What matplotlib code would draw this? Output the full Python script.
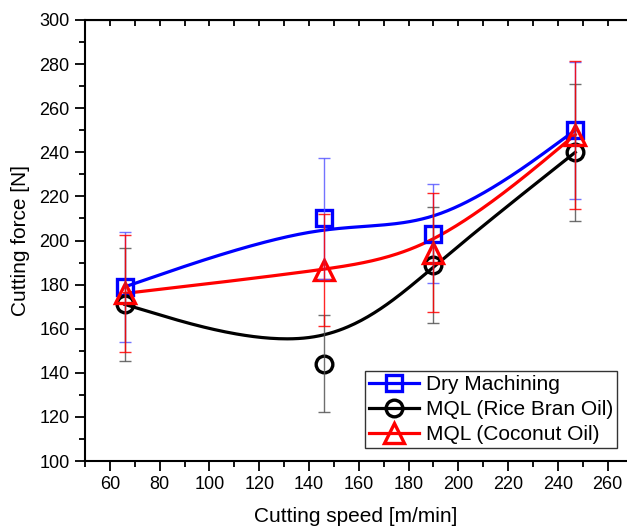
import numpy as np
import matplotlib
matplotlib.use("Agg")
import matplotlib.pyplot as plt
from matplotlib.ticker import MultipleLocator

plt.rcParams['font.family'] = ['Liberation Sans', 'DejaVu Sans']

speed = [66, 146, 190, 247]

dry = [179, 210, 203, 250]
dry_err = [25, 27.5, 22.5, 31]

rice = [171, 144, 189, 240]
rice_err = [25.5, 22, 26.3, 31]

coco = [176, 186.5, 194.5, 248]
coco_err = [26.5, 25.5, 27, 33.5]

labels = ['Dry Machining', 'MQL (Rice Bran Oil)', 'MQL (Coconut Oil)']


def bspline(xs, ys, n=60):
    # uniform cubic B-spline, end points repeated so the curve starts/ends on them
    pts = np.column_stack([xs, ys]).astype(float)
    q = np.vstack([pts[:1], pts[:1], pts, pts[-1:], pts[-1:]])
    u = np.linspace(0, 1, n)[:, None]
    b0 = (1 - u) ** 3 / 6
    b1 = (3 * u ** 3 - 6 * u ** 2 + 4) / 6
    b2 = (-3 * u ** 3 + 3 * u ** 2 + 3 * u + 1) / 6
    b3 = u ** 3 / 6
    out = [b0 * q[i] + b1 * q[i + 1] + b2 * q[i + 2] + b3 * q[i + 3]
           for i in range(len(q) - 3)]
    seg = np.vstack(out)
    return seg[:, 0], seg[:, 1]


fig = plt.figure(figsize=(6.27, 5.26), dpi=100)
ax = fig.add_axes([85 / 627, 1 - 461 / 526, 1 - 85 / 627, (461 - 20) / 526])

series = [
    (dry, dry_err, 'blue', '#5a5aff', 's', 11),
    (rice, rice_err, 'black', '#555555', 'o', 12),
    (coco, coco_err, 'red', 'red', '^', 14),
]

for (vals, err, col, ecol, mk, ms), lab in zip(series, labels):
    sx, sy = bspline(speed, vals)
    ax.plot(sx, sy, color=col, lw=2.3, zorder=3)
    ax.plot(speed, vals, ls='none', marker=mk, ms=ms, mfc='none', mec=col,
            mew=2.4, zorder=4)
    ax.errorbar(speed, vals, yerr=err, fmt='none', ecolor=ecol, elinewidth=1,
                capsize=4, capthick=1, alpha=0.85, zorder=5)
    ax.plot([], [], color=col, lw=2.3, marker=mk, ms=ms, mfc='none', mec=col,
            mew=2.4, label=lab)

ax.set_xlim(50, 267.8)
ax.set_ylim(100, 300)
ax.xaxis.set_major_locator(MultipleLocator(20))
ax.xaxis.set_minor_locator(MultipleLocator(10))
ax.yaxis.set_major_locator(MultipleLocator(20))
ax.yaxis.set_minor_locator(MultipleLocator(10))
ax.tick_params(which='major', direction='out', length=7, width=1.3,
               labelsize=13, pad=4)
ax.tick_params(which='minor', direction='out', length=4, width=1.3)
for s in ['left', 'bottom', 'top']:
    ax.spines[s].set_linewidth(1.5)
ax.spines['right'].set_visible(False)

top = ax.secondary_xaxis('top')
top.xaxis.set_major_locator(MultipleLocator(10))
top.tick_params(direction='in', length=4, width=1.3, labeltop=False)

ax.set_xlabel('Cutting speed [m/min]', fontsize=15, labelpad=10)
ax.set_ylabel('Cutting force [N]', fontsize=15, labelpad=7)

leg = ax.legend(loc='lower right', bbox_to_anchor=(0.9815, 0.0295), fontsize=15,
                frameon=True, fancybox=False, edgecolor='black',
                handlelength=2.4, handletextpad=0.3, borderpad=0.2,
                labelspacing=0.28, borderaxespad=0)
leg.get_frame().set_linewidth(1)

fig.savefig('out.png', dpi=100)
